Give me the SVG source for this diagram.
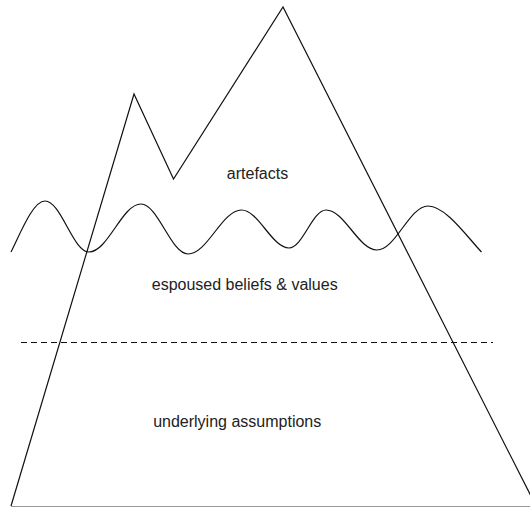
<svg xmlns="http://www.w3.org/2000/svg" width="530" height="507" viewBox="0 0 530 507">
  <style>
    .line { fill: none; stroke: #111; stroke-width: 1.2; stroke-linejoin: miter; }
    .label { font-family: "Liberation Sans", Arial, sans-serif; font-size: 16px; fill: #222; text-anchor: middle; }
  </style>
  <rect width="530" height="507" fill="#fff"/>

  <!-- iceberg outline -->
  <g id="iceberg">
    <polyline class="line" points="11,506 134,94 173.5,179 283,7 536,506"/>
    <line x1="11" y1="506.5" x2="530" y2="506.5" stroke="#999" stroke-width="1"/>
  </g>

  <!-- waterline -->
  <g id="waterline">
    <path class="line" d="M11,252 C21,232 33,201 45,201 C61,201 73,252 89,252 C108,252 122,204 141,204 C158,204 171,254 188,254 C207.5,254 222,210 241.5,210 C258.5,210 272,248 289,248 C302.5,248 312.5,210 326,210 C344.5,210 358.5,250 377,250 C395.5,250 409.5,206 428,206 C446,206 468,238 481.5,252"/>
  </g>

  <!-- boundary between beliefs and assumptions -->
  <g id="divider">
    <line class="line" x1="21" y1="342.5" x2="493" y2="342.5" stroke-dasharray="6,4"/>
  </g>

  <g id="artefacts">
    <text class="label" x="257.5" y="178.5">artefacts</text>
  </g>
  <g id="espoused-beliefs">
    <text class="label" x="244.7" y="290">espoused beliefs &amp; values</text>
  </g>
  <g id="underlying-assumptions">
    <text class="label" x="237.2" y="427">underlying assumptions</text>
  </g>
</svg>
